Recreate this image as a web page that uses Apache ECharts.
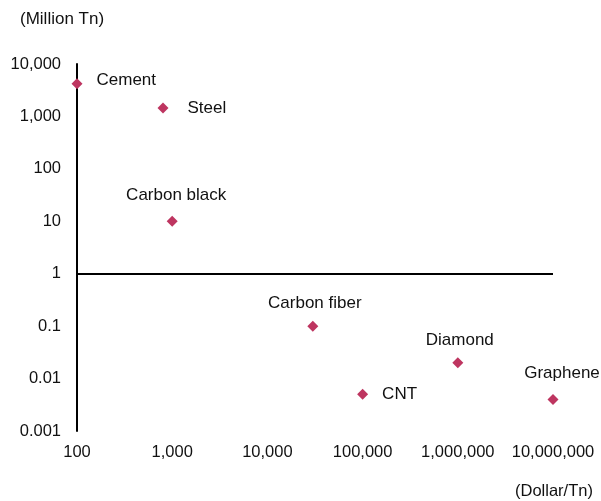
<!DOCTYPE html>
<html>
<head>
<meta charset="utf-8">
<script src="https://cdn.jsdelivr.net/npm/echarts@6/dist/echarts.min.js"></script>
<style>
  html, body { margin: 0; padding: 0; background: #fff; }
  #chart { width: 601px; height: 501px; }
</style>
</head>
<body>
<div id="chart"></div>
<script>
// Materials: price (Dollar/Tn) against annual production (Million Tn)
const materials = ['Cement', 'Steel', 'Carbon black', 'Carbon fiber', 'CNT', 'Diamond', 'Graphene'];
const pricePerTon = [100, 800, 1000, 30000, 100000, 1000000, 10000000];
const productionMt = [4200, 1450, 10, 0.1, 0.005, 0.02, 0.004];

const yTickLabels = ['0.001', '0.01', '0.1', '1', '10', '100', '1,000', '10,000'];
const xTickLabels = ['100', '1,000', '10,000', '100,000', '1,000,000', '10,000,000'];

// where each name sits relative to its marker
const labelPlacement = {
  'Cement':       { position: 'right', distance: 14, offset: [0, -3] },
  'Steel':        { position: 'right', distance: 19 },
  'Carbon black': { position: 'top', distance: 12, offset: [4, 0] },
  'Carbon fiber': { position: 'top', distance: 9, offset: [2, 0] },
  'CNT':          { position: 'right', distance: 14 },
  'Diamond':      { position: 'top', distance: 8, offset: [2, 0] },
  'Graphene':     { position: 'top', distance: 12, offset: [9, 0] }
};

const FONT = 'Liberation Sans, Arial, sans-serif';
const MARK = '#BE3560';
const INK = '#111';

const points = materials.map((name, i) => ({
  name: name,
  value: [pricePerTon[i], productionMt[i]],
  label: labelPlacement[name]
}));

const chart = echarts.init(document.getElementById('chart'), null, { renderer: 'canvas' });
chart.setOption({
  animation: false,
  backgroundColor: '#fff',
  grid: { left: 77, right: 48, top: 64, bottom: 70 },
  xAxis: {
    type: 'log',
    logBase: 10,
    min: 100,
    max: 10000000,
    axisLine: { show: false },
    axisTick: { show: false },
    splitLine: { show: false },
    axisLabel: {
      margin: 13,
      color: INK,
      fontFamily: FONT,
      fontSize: 16.5,
      formatter: v => xTickLabels[Math.round(Math.log10(v)) - 2]
    }
  },
  yAxis: {
    type: 'log',
    logBase: 10,
    min: 0.001,
    max: 10000,
    axisLine: { show: true, onZero: false, lineStyle: { color: '#000', width: 2 } },
    axisTick: { show: false },
    splitLine: { show: false },
    axisLabel: {
      margin: 16,
      color: INK,
      fontFamily: FONT,
      fontSize: 16.5,
      formatter: v => yTickLabels[Math.round(Math.log10(v)) + 3]
    }
  },
  graphic: [
    {
      type: 'text', left: 20, top: 11,
      style: { text: '(Million Tn)', fontFamily: FONT, fontSize: 17, fill: INK }
    },
    {
      type: 'text', left: 515, top: 483,
      style: { text: '(Dollar/Tn)', fontFamily: FONT, fontSize: 16.5, fill: INK }
    }
  ],
  series: [{
    type: 'scatter',
    symbol: 'diamond',
    symbolSize: 11,
    itemStyle: { color: MARK, opacity: 1 },
    data: points,
    label: {
      show: true,
      formatter: p => p.name,
      color: INK,
      fontFamily: FONT,
      fontSize: 17
    },
    emphasis: { disabled: true },
    markLine: {
      silent: true,
      symbol: 'none',
      label: { show: false },
      lineStyle: { color: '#000', width: 2, type: 'solid' },
      data: [{ yAxis: 1 }]
    }
  }]
});
</script>
</body>
</html>
